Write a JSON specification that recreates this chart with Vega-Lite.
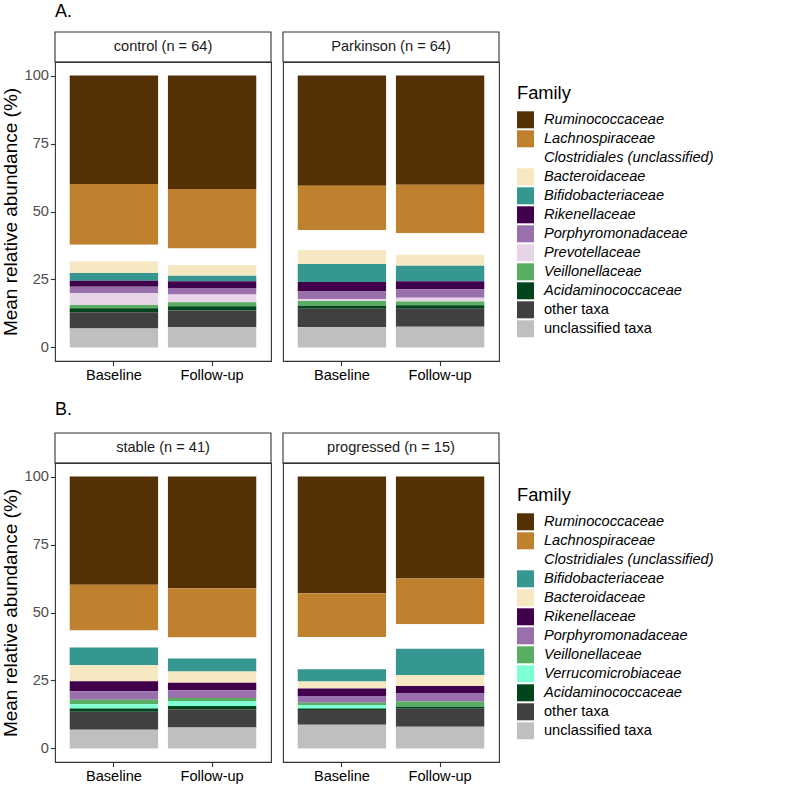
{
  "$schema": "https://vega.github.io/schema/vega-lite/v6.json",
  "padding": {"left": 0, "top": 3, "right": 0, "bottom": 0},
  "background": "white",
  "datasets": {
    "strips": [
      {"group": "control", "label": "control (n = 64)"},
      {"group": "Parkinson", "label": "Parkinson (n = 64)"},
      {"group": "stable", "label": "stable (n = 41)"},
      {"group": "progressed", "label": "progressed (n = 15)"}
    ],
    "abund": [
      {"group": "control", "time": "Baseline", "family": "Ruminococcaceae", "value": 39.9},
      {"group": "control", "time": "Baseline", "family": "Lachnospiraceae", "value": 22.3},
      {"group": "control", "time": "Baseline", "family": "Clostridiales (unclassified)", "value": 6.1},
      {"group": "control", "time": "Baseline", "family": "Bacteroidaceae", "value": 4.3},
      {"group": "control", "time": "Baseline", "family": "Bifidobacteriaceae", "value": 2.9},
      {"group": "control", "time": "Baseline", "family": "Rikenellaceae", "value": 2.2},
      {"group": "control", "time": "Baseline", "family": "Porphyromonadaceae", "value": 2.4},
      {"group": "control", "time": "Baseline", "family": "Prevotellaceae", "value": 4.3},
      {"group": "control", "time": "Baseline", "family": "Veillonellaceae", "value": 1.2},
      {"group": "control", "time": "Baseline", "family": "Acidaminococcaceae", "value": 1.5},
      {"group": "control", "time": "Baseline", "family": "other taxa", "value": 5.9},
      {"group": "control", "time": "Baseline", "family": "unclassified taxa", "value": 7.0},
      {"group": "control", "time": "Follow-up", "family": "Ruminococcaceae", "value": 41.7},
      {"group": "control", "time": "Follow-up", "family": "Lachnospiraceae", "value": 21.9},
      {"group": "control", "time": "Follow-up", "family": "Clostridiales (unclassified)", "value": 6.1},
      {"group": "control", "time": "Follow-up", "family": "Bacteroidaceae", "value": 3.9},
      {"group": "control", "time": "Follow-up", "family": "Bifidobacteriaceae", "value": 2.1},
      {"group": "control", "time": "Follow-up", "family": "Rikenellaceae", "value": 2.4},
      {"group": "control", "time": "Follow-up", "family": "Porphyromonadaceae", "value": 2.4},
      {"group": "control", "time": "Follow-up", "family": "Prevotellaceae", "value": 2.9},
      {"group": "control", "time": "Follow-up", "family": "Veillonellaceae", "value": 1.5},
      {"group": "control", "time": "Follow-up", "family": "Acidaminococcaceae", "value": 1.5},
      {"group": "control", "time": "Follow-up", "family": "other taxa", "value": 6.1},
      {"group": "control", "time": "Follow-up", "family": "unclassified taxa", "value": 7.5},
      {"group": "Parkinson", "time": "Baseline", "family": "Ruminococcaceae", "value": 40.5},
      {"group": "Parkinson", "time": "Baseline", "family": "Lachnospiraceae", "value": 16.3},
      {"group": "Parkinson", "time": "Baseline", "family": "Clostridiales (unclassified)", "value": 7.4},
      {"group": "Parkinson", "time": "Baseline", "family": "Bacteroidaceae", "value": 5.1},
      {"group": "Parkinson", "time": "Baseline", "family": "Bifidobacteriaceae", "value": 6.6},
      {"group": "Parkinson", "time": "Baseline", "family": "Rikenellaceae", "value": 3.5},
      {"group": "Parkinson", "time": "Baseline", "family": "Porphyromonadaceae", "value": 2.9},
      {"group": "Parkinson", "time": "Baseline", "family": "Prevotellaceae", "value": 0.6},
      {"group": "Parkinson", "time": "Baseline", "family": "Veillonellaceae", "value": 1.8},
      {"group": "Parkinson", "time": "Baseline", "family": "Acidaminococcaceae", "value": 1.1},
      {"group": "Parkinson", "time": "Baseline", "family": "other taxa", "value": 6.8},
      {"group": "Parkinson", "time": "Baseline", "family": "unclassified taxa", "value": 7.4},
      {"group": "Parkinson", "time": "Follow-up", "family": "Ruminococcaceae", "value": 40.2},
      {"group": "Parkinson", "time": "Follow-up", "family": "Lachnospiraceae", "value": 17.8},
      {"group": "Parkinson", "time": "Follow-up", "family": "Clostridiales (unclassified)", "value": 7.9},
      {"group": "Parkinson", "time": "Follow-up", "family": "Bacteroidaceae", "value": 4.1},
      {"group": "Parkinson", "time": "Follow-up", "family": "Bifidobacteriaceae", "value": 5.7},
      {"group": "Parkinson", "time": "Follow-up", "family": "Rikenellaceae", "value": 2.9},
      {"group": "Parkinson", "time": "Follow-up", "family": "Porphyromonadaceae", "value": 3.1},
      {"group": "Parkinson", "time": "Follow-up", "family": "Prevotellaceae", "value": 1.4},
      {"group": "Parkinson", "time": "Follow-up", "family": "Veillonellaceae", "value": 1.4},
      {"group": "Parkinson", "time": "Follow-up", "family": "Acidaminococcaceae", "value": 1.3},
      {"group": "Parkinson", "time": "Follow-up", "family": "other taxa", "value": 6.6},
      {"group": "Parkinson", "time": "Follow-up", "family": "unclassified taxa", "value": 7.6},
      {"group": "stable", "time": "Baseline", "family": "Ruminococcaceae", "value": 39.8},
      {"group": "stable", "time": "Baseline", "family": "Lachnospiraceae", "value": 16.8},
      {"group": "stable", "time": "Baseline", "family": "Clostridiales (unclassified)", "value": 6.3},
      {"group": "stable", "time": "Baseline", "family": "Bifidobacteriaceae", "value": 6.5},
      {"group": "stable", "time": "Baseline", "family": "Bacteroidaceae", "value": 5.9},
      {"group": "stable", "time": "Baseline", "family": "Rikenellaceae", "value": 3.7},
      {"group": "stable", "time": "Baseline", "family": "Porphyromonadaceae", "value": 3.1},
      {"group": "stable", "time": "Baseline", "family": "Veillonellaceae", "value": 1.7},
      {"group": "stable", "time": "Baseline", "family": "Verrucomicrobiaceae", "value": 1.5},
      {"group": "stable", "time": "Baseline", "family": "Acidaminococcaceae", "value": 1.2},
      {"group": "stable", "time": "Baseline", "family": "other taxa", "value": 6.6},
      {"group": "stable", "time": "Baseline", "family": "unclassified taxa", "value": 6.9},
      {"group": "stable", "time": "Follow-up", "family": "Ruminococcaceae", "value": 41.1},
      {"group": "stable", "time": "Follow-up", "family": "Lachnospiraceae", "value": 18.1},
      {"group": "stable", "time": "Follow-up", "family": "Clostridiales (unclassified)", "value": 7.7},
      {"group": "stable", "time": "Follow-up", "family": "Bifidobacteriaceae", "value": 4.8},
      {"group": "stable", "time": "Follow-up", "family": "Bacteroidaceae", "value": 4.1},
      {"group": "stable", "time": "Follow-up", "family": "Rikenellaceae", "value": 2.8},
      {"group": "stable", "time": "Follow-up", "family": "Porphyromonadaceae", "value": 2.9},
      {"group": "stable", "time": "Follow-up", "family": "Veillonellaceae", "value": 1.1},
      {"group": "stable", "time": "Follow-up", "family": "Verrucomicrobiaceae", "value": 1.8},
      {"group": "stable", "time": "Follow-up", "family": "Acidaminococcaceae", "value": 1.2},
      {"group": "stable", "time": "Follow-up", "family": "other taxa", "value": 6.7},
      {"group": "stable", "time": "Follow-up", "family": "unclassified taxa", "value": 7.7},
      {"group": "progressed", "time": "Baseline", "family": "Ruminococcaceae", "value": 42.9},
      {"group": "progressed", "time": "Baseline", "family": "Lachnospiraceae", "value": 16.1},
      {"group": "progressed", "time": "Baseline", "family": "Clostridiales (unclassified)", "value": 11.9},
      {"group": "progressed", "time": "Baseline", "family": "Bifidobacteriaceae", "value": 4.5},
      {"group": "progressed", "time": "Baseline", "family": "Bacteroidaceae", "value": 2.6},
      {"group": "progressed", "time": "Baseline", "family": "Rikenellaceae", "value": 2.7},
      {"group": "progressed", "time": "Baseline", "family": "Porphyromonadaceae", "value": 2.5},
      {"group": "progressed", "time": "Baseline", "family": "Veillonellaceae", "value": 0.8},
      {"group": "progressed", "time": "Baseline", "family": "Verrucomicrobiaceae", "value": 1.3},
      {"group": "progressed", "time": "Baseline", "family": "Acidaminococcaceae", "value": 0.6},
      {"group": "progressed", "time": "Baseline", "family": "other taxa", "value": 5.4},
      {"group": "progressed", "time": "Baseline", "family": "unclassified taxa", "value": 8.7},
      {"group": "progressed", "time": "Follow-up", "family": "Ruminococcaceae", "value": 37.5},
      {"group": "progressed", "time": "Follow-up", "family": "Lachnospiraceae", "value": 16.8},
      {"group": "progressed", "time": "Follow-up", "family": "Clostridiales (unclassified)", "value": 9.0},
      {"group": "progressed", "time": "Follow-up", "family": "Bifidobacteriaceae", "value": 9.7},
      {"group": "progressed", "time": "Follow-up", "family": "Bacteroidaceae", "value": 4.0},
      {"group": "progressed", "time": "Follow-up", "family": "Rikenellaceae", "value": 2.8},
      {"group": "progressed", "time": "Follow-up", "family": "Porphyromonadaceae", "value": 2.9},
      {"group": "progressed", "time": "Follow-up", "family": "Veillonellaceae", "value": 1.7},
      {"group": "progressed", "time": "Follow-up", "family": "Verrucomicrobiaceae", "value": 0.2},
      {"group": "progressed", "time": "Follow-up", "family": "Acidaminococcaceae", "value": 0.8},
      {"group": "progressed", "time": "Follow-up", "family": "other taxa", "value": 6.6},
      {"group": "progressed", "time": "Follow-up", "family": "unclassified taxa", "value": 8.0}
    ]
  },
  "vconcat": [
    {
      "spacing": 10,
      "hconcat": [
        {
          "bounds": "flush",
          "spacing": 0,
          "vconcat": [
            {
              "width": 216, "height": 30,
              "title": {"text": "A."},
              "data": {"name": "strips"},
              "transform": [{"filter": "datum.group == 'control'"}],
              "layer": [
                {"mark": {"type": "rect", "fill": "white", "stroke": "#333333", "strokeWidth": 1.1}, "encoding": {}},
                {"mark": {"type": "text", "fontSize": 14.6, "color": "#1A1A1A"}, "encoding": {"text": {"field": "label", "type": "nominal"}}}
              ]
            },
            {
              "width": 216, "height": 299,
              "data": {"name": "abund"},
              "transform": [
                {"filter": "datum.group == 'control'"},
                {"calculate": "indexof(['Ruminococcaceae','Lachnospiraceae','Clostridiales (unclassified)','Bacteroidaceae','Bifidobacteriaceae','Rikenellaceae','Porphyromonadaceae','Prevotellaceae','Veillonellaceae','Acidaminococcaceae','other taxa','unclassified taxa'], datum.family)", "as": "rank"}
              ],
              "mark": {"type": "bar"},
              "encoding": {
                "x": {"field": "time", "type": "nominal", "scale": {"domain": ["Baseline", "Follow-up"], "paddingInner": 0.1, "paddingOuter": 0.15}, "axis": {"title": null, "labelAngle": 0, "labelColor": "black"}},
                "y": {"field": "value", "type": "quantitative", "stack": "zero", "scale": {"domain": [-5, 105], "nice": false, "zero": false}, "axis": {"values": [0, 25, 50, 75, 100], "title": "Mean relative abundance (%)", "labelColor": "#4D4D4D"}},
                "color": {"field": "family", "type": "nominal",
                  "scale": {"domain": ["Ruminococcaceae","Lachnospiraceae","Clostridiales (unclassified)","Bacteroidaceae","Bifidobacteriaceae","Rikenellaceae","Porphyromonadaceae","Prevotellaceae","Veillonellaceae","Acidaminococcaceae","other taxa","unclassified taxa"],
                            "range": ["#543005","#BF812D","#FFFFFF","#F6E8C3","#35978F","#40004B","#9970AB","#E7D4E8","#5AAE61","#00441B","#404040","#BFBFBF"]},
                  "legend": {"title": "Family", "orient": "none", "legendX": 462, "legendY": 53,
                    "encode": {"labels": {"update": {"fontStyle": {"signal": "datum.label == 'other taxa' || datum.label == 'unclassified taxa' ? 'normal' : 'italic'"}}}}}},
                "order": {"field": "rank", "type": "quantitative", "sort": "descending"}
              }
            }
          ]
        },
        {
          "bounds": "flush",
          "spacing": 0,
          "vconcat": [
            {
              "width": 216, "height": 30,
              "title": {"text": " "},
              "data": {"name": "strips"},
              "transform": [{"filter": "datum.group == 'Parkinson'"}],
              "layer": [
                {"mark": {"type": "rect", "fill": "white", "stroke": "#333333", "strokeWidth": 1.1}, "encoding": {}},
                {"mark": {"type": "text", "fontSize": 14.6, "color": "#1A1A1A"}, "encoding": {"text": {"field": "label", "type": "nominal"}}}
              ]
            },
            {
              "width": 216, "height": 299,
              "data": {"name": "abund"},
              "transform": [
                {"filter": "datum.group == 'Parkinson'"},
                {"calculate": "indexof(['Ruminococcaceae','Lachnospiraceae','Clostridiales (unclassified)','Bacteroidaceae','Bifidobacteriaceae','Rikenellaceae','Porphyromonadaceae','Prevotellaceae','Veillonellaceae','Acidaminococcaceae','other taxa','unclassified taxa'], datum.family)", "as": "rank"}
              ],
              "mark": {"type": "bar"},
              "encoding": {
                "x": {"field": "time", "type": "nominal", "scale": {"domain": ["Baseline", "Follow-up"], "paddingInner": 0.1, "paddingOuter": 0.15}, "axis": {"title": null, "labelAngle": 0, "labelColor": "black"}},
                "y": {"field": "value", "type": "quantitative", "stack": "zero", "scale": {"domain": [-5, 105], "nice": false, "zero": false}, "axis": null},
                "color": {"field": "family", "type": "nominal",
                  "scale": {"domain": ["Ruminococcaceae","Lachnospiraceae","Clostridiales (unclassified)","Bacteroidaceae","Bifidobacteriaceae","Rikenellaceae","Porphyromonadaceae","Prevotellaceae","Veillonellaceae","Acidaminococcaceae","other taxa","unclassified taxa"],
                            "range": ["#543005","#BF812D","#FFFFFF","#F6E8C3","#35978F","#40004B","#9970AB","#E7D4E8","#5AAE61","#00441B","#404040","#BFBFBF"]},
                  "legend": {"title": "Family", "orient": "none", "legendX": 462, "legendY": 53,
                    "encode": {"labels": {"update": {"fontStyle": {"signal": "datum.label == 'other taxa' || datum.label == 'unclassified taxa' ? 'normal' : 'italic'"}}}}}},
                "order": {"field": "rank", "type": "quantitative", "sort": "descending"}
              }
            }
          ]
        }
      ]
    },
    {
      "spacing": 10,
      "hconcat": [
        {
          "bounds": "flush",
          "spacing": 0,
          "vconcat": [
            {
              "width": 216, "height": 30,
              "title": {"text": "B.", "offset": 13},
              "data": {"name": "strips"},
              "transform": [{"filter": "datum.group == 'stable'"}],
              "layer": [
                {"mark": {"type": "rect", "fill": "white", "stroke": "#333333", "strokeWidth": 1.1}, "encoding": {}},
                {"mark": {"type": "text", "fontSize": 14.6, "color": "#1A1A1A"}, "encoding": {"text": {"field": "label", "type": "nominal"}}}
              ]
            },
            {
              "width": 216, "height": 299,
              "data": {"name": "abund"},
              "transform": [
                {"filter": "datum.group == 'stable'"},
                {"calculate": "indexof(['Ruminococcaceae','Lachnospiraceae','Clostridiales (unclassified)','Bifidobacteriaceae','Bacteroidaceae','Rikenellaceae','Porphyromonadaceae','Veillonellaceae','Verrucomicrobiaceae','Acidaminococcaceae','other taxa','unclassified taxa'], datum.family)", "as": "rank"}
              ],
              "mark": {"type": "bar"},
              "encoding": {
                "x": {"field": "time", "type": "nominal", "scale": {"domain": ["Baseline", "Follow-up"], "paddingInner": 0.1, "paddingOuter": 0.15}, "axis": {"title": null, "labelAngle": 0, "labelColor": "black"}},
                "y": {"field": "value", "type": "quantitative", "stack": "zero", "scale": {"domain": [-5, 105], "nice": false, "zero": false}, "axis": {"values": [0, 25, 50, 75, 100], "title": "Mean relative abundance (%)", "labelColor": "#4D4D4D"}},
                "color": {"field": "family", "type": "nominal",
                  "scale": {"domain": ["Ruminococcaceae","Lachnospiraceae","Clostridiales (unclassified)","Bifidobacteriaceae","Bacteroidaceae","Rikenellaceae","Porphyromonadaceae","Veillonellaceae","Verrucomicrobiaceae","Acidaminococcaceae","other taxa","unclassified taxa"],
                            "range": ["#543005","#BF812D","#FFFFFF","#35978F","#F6E8C3","#40004B","#9970AB","#5AAE61","#7FFFD4","#00441B","#404040","#BFBFBF"]},
                  "legend": {"title": "Family", "orient": "none", "legendX": 462, "legendY": 54,
                    "encode": {"labels": {"update": {"fontStyle": {"signal": "datum.label == 'other taxa' || datum.label == 'unclassified taxa' ? 'normal' : 'italic'"}}}}}},
                "order": {"field": "rank", "type": "quantitative", "sort": "descending"}
              }
            }
          ]
        },
        {
          "bounds": "flush",
          "spacing": 0,
          "vconcat": [
            {
              "width": 216, "height": 30,
              "title": {"text": " ", "offset": 13},
              "data": {"name": "strips"},
              "transform": [{"filter": "datum.group == 'progressed'"}],
              "layer": [
                {"mark": {"type": "rect", "fill": "white", "stroke": "#333333", "strokeWidth": 1.1}, "encoding": {}},
                {"mark": {"type": "text", "fontSize": 14.6, "color": "#1A1A1A"}, "encoding": {"text": {"field": "label", "type": "nominal"}}}
              ]
            },
            {
              "width": 216, "height": 299,
              "data": {"name": "abund"},
              "transform": [
                {"filter": "datum.group == 'progressed'"},
                {"calculate": "indexof(['Ruminococcaceae','Lachnospiraceae','Clostridiales (unclassified)','Bifidobacteriaceae','Bacteroidaceae','Rikenellaceae','Porphyromonadaceae','Veillonellaceae','Verrucomicrobiaceae','Acidaminococcaceae','other taxa','unclassified taxa'], datum.family)", "as": "rank"}
              ],
              "mark": {"type": "bar"},
              "encoding": {
                "x": {"field": "time", "type": "nominal", "scale": {"domain": ["Baseline", "Follow-up"], "paddingInner": 0.1, "paddingOuter": 0.15}, "axis": {"title": null, "labelAngle": 0, "labelColor": "black"}},
                "y": {"field": "value", "type": "quantitative", "stack": "zero", "scale": {"domain": [-5, 105], "nice": false, "zero": false}, "axis": null},
                "color": {"field": "family", "type": "nominal",
                  "scale": {"domain": ["Ruminococcaceae","Lachnospiraceae","Clostridiales (unclassified)","Bifidobacteriaceae","Bacteroidaceae","Rikenellaceae","Porphyromonadaceae","Veillonellaceae","Verrucomicrobiaceae","Acidaminococcaceae","other taxa","unclassified taxa"],
                            "range": ["#543005","#BF812D","#FFFFFF","#35978F","#F6E8C3","#40004B","#9970AB","#5AAE61","#7FFFD4","#00441B","#404040","#BFBFBF"]},
                  "legend": {"title": "Family", "orient": "none", "legendX": 462, "legendY": 54,
                    "encode": {"labels": {"update": {"fontStyle": {"signal": "datum.label == 'other taxa' || datum.label == 'unclassified taxa' ? 'normal' : 'italic'"}}}}}},
                "order": {"field": "rank", "type": "quantitative", "sort": "descending"}
              }
            }
          ]
        }
      ]
    }
  ],
  "spacing": 18,
  "resolve": {"scale": {"color": "independent"}, "legend": {"color": "independent"}},
  "config": {
    "font": "Liberation Sans",
    "view": {"stroke": "#333333", "strokeWidth": 1.1},
    "title": {"anchor": "start", "frame": "group", "fontSize": 18, "fontWeight": "normal", "color": "black", "offset": 10},
    "axis": {"grid": false, "domain": false, "tickColor": "#333333", "tickWidth": 1.1, "tickSize": 4.6, "labelFontSize": 14.6, "labelPadding": 2, "titleFontSize": 19, "titleFontWeight": "normal", "titleColor": "black", "titlePadding": 4},
    "legend": {"symbolType": "square", "symbolSize": 289, "symbolStrokeWidth": 0, "symbolOpacity": 1, "labelFontSize": 14.6, "labelColor": "black", "titleFontSize": 18.3, "titleFontWeight": "normal", "titleColor": "black", "titlePadding": 8, "rowPadding": 2, "labelOffset": 10, "labelLimit": 400}
  }
}
